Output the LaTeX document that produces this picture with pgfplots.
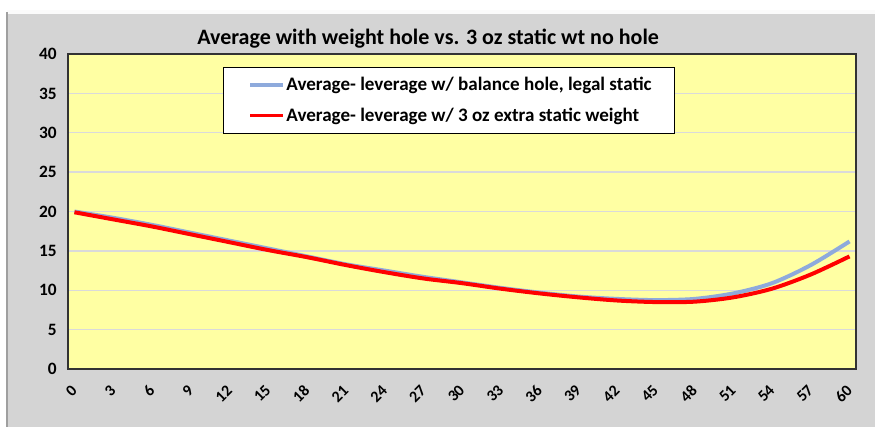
\documentclass[border=0pt]{standalone}
\usepackage{pgfplots}
\pgfplotsset{compat=1.18}
\usepackage{fontspec}
\setmainfont{Carlito}
\definecolor{plotbg}{HTML}{FFFFA3}
\definecolor{outerbg}{HTML}{D4D4D4}
\definecolor{gridc}{HTML}{DADADA}
\definecolor{blueline}{HTML}{8EAADC}
\begin{document}
\begin{tikzpicture}
% 1px = 0.75pt, axis box lower-left at origin
\path[use as bounding box] (-51pt,-42.75pt) rectangle (605.25pt,276.75pt);
\fill[white] (-51pt,-42.75pt) rectangle (605.25pt,276.75pt);
\fill[outerbg] (-45.75pt,-44pt) rectangle (607pt,269.25pt);
\fill[white!90!outerbg] (-45.75pt,269.25pt) rectangle (607pt,266pt);
\draw[gray!75, line width=1.5pt] (-45.75pt,-44pt) -- (-45.75pt,268pt);
\begin{axis}[
  scale only axis, width=591pt, height=236.25pt,
  xmin=-0.5, xmax=60.5, ymin=0, ymax=40,
  xtick={0,3,...,60}, ytick={0,5,...,40},
  major tick length=0pt,
  axis background/.style={fill=plotbg},
  axis line style={draw=black!80, line width=1pt},
  ymajorgrids, grid style={gridc, line width=1pt},
  /pgf/number format/assume math mode=true,
  yticklabel style={font=\fontsize{13}{15}\selectfont\bfseries, xshift=-5pt},
  xticklabel style={font=\fontsize{12}{14}\selectfont\bfseries, rotate=45, anchor=east, inner sep=0pt},
  xticklabel shift=14pt,
  title={Average with weight hole vs. 3 oz static wt no hole},
  title style={font=\fontsize{16.5}{18}\selectfont\bfseries, at={(0.457,1.022)}, anchor=center},
  legend style={at={(0.197,0.959)}, anchor=north west, draw=black, fill=white,
    font=\fontsize{14.3}{16}\selectfont\bfseries, line width=0.8pt,
    row sep=7.25pt, inner xsep=6pt, inner ysep=5.5pt,
    nodes={inner xsep=1pt}},
  legend cell align=left,
  legend image code/.code={\path (0pt,0pt); \draw[#1, line width=2.5pt] (12.5pt,0pt) -- (37.25pt,0pt);},
]
\addplot[blueline, line width=3pt, smooth] coordinates {
(0,20.0) (3,19.2) (6,18.3) (9,17.3) (12,16.3) (15,15.3) (18,14.3) (21,13.3)
(24,12.5) (27,11.7) (30,11.0) (33,10.3) (36,9.7) (39,9.2) (42,8.9) (45,8.75)
(48,8.9) (51,9.6) (54,10.9) (57,13.2) (60,16.2)};
\addlegendentry{Average- leverage w/ balance hole, legal static\rule{10pt}{0pt}}
\addplot[red, line width=3pt, smooth] coordinates {
(0,19.9) (3,19.0) (6,18.1) (9,17.1) (12,16.1) (15,15.1) (18,14.2) (21,13.2)
(24,12.3) (27,11.5) (30,10.9) (33,10.2) (36,9.6) (39,9.1) (42,8.7) (45,8.5)
(48,8.55) (51,9.1) (54,10.2) (57,12.0) (60,14.3)};
\addlegendentry{Average- leverage w/ 3 oz extra static weight}
\end{axis}
\end{tikzpicture}
\end{document}
